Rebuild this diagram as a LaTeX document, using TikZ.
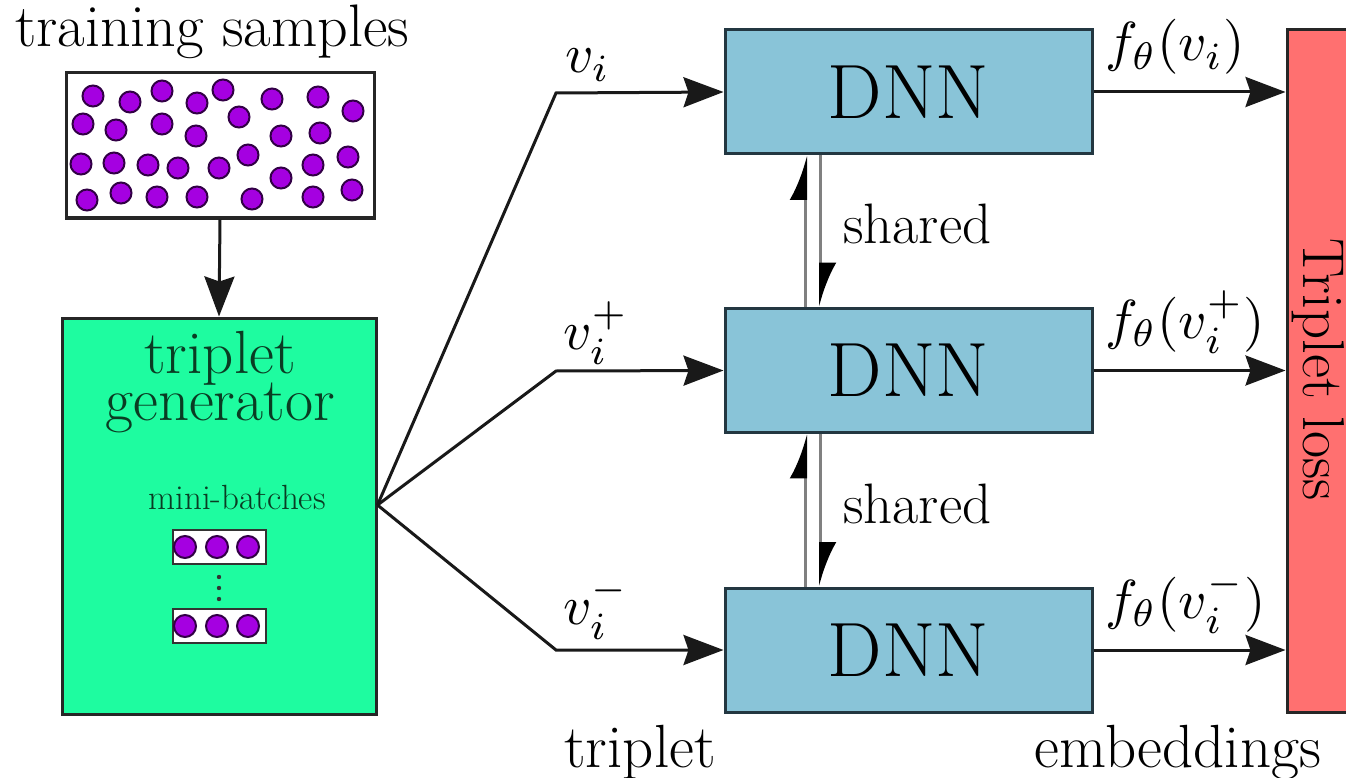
\documentclass[tikz,border=0pt]{standalone}
\usepackage{fontspec}
\usepackage{graphicx}
\usetikzlibrary{arrows.meta}
\definecolor{genfill}{RGB}{30,252,160}
\definecolor{gentext}{RGB}{10,60,35}
\definecolor{dnnfill}{RGB}{137,196,216}
\definecolor{dnnedge}{RGB}{35,55,65}
\definecolor{lossfill}{RGB}{255,112,112}
\definecolor{dotfill}{RGB}{165,0,225}
\definecolor{dotedge}{RGB}{50,0,70}
\definecolor{linecol}{RGB}{25,25,25}
\newcommand{\bigmath}[1]{\scalebox{5.5}{$#1$}}
\tikzset{
  big/.style={font=\fontsize{61}{66}\selectfont, inner sep=0pt},
  lbl/.style={inner sep=0pt, anchor=base west},
  dnnbox/.style={draw=dnnedge, line width=3pt, fill=dnnfill, minimum width=367pt,
    minimum height=124pt, inner sep=0pt, font=\fontsize{77}{80}\selectfont},
  arr/.style={draw=linecol, line width=3pt, line join=miter,
    -{Stealth[length=40pt,width=30pt,inset=5pt]}},
  sharedln/.style={draw=black!50, line width=3pt,
    -{Latex[left,length=39pt,width=32pt,color=black]}},
  dot/.style={fill=dotfill, draw=dotedge, line width=2pt},
  mbbox/.style={draw=black!80, line width=2pt, fill=white, minimum width=93pt,
    minimum height=34pt, inner sep=0pt},
}
\begin{document}
\begin{tikzpicture}[x=1pt,y=-1pt]
\useasboundingbox (0,0) rectangle (1346,778);
\clip (0,0) rectangle (1346,778);

% training samples
\node[big, anchor=base, font=\fontsize{60}{64}\selectfont] (ts) at (212,47) {training samples};
\node[draw=black!85, line width=3pt, fill=white, minimum width=308pt, minimum height=145pt, inner sep=0pt] (samples) at (220,145.5) {};
\foreach \p in {(93,96),(130,102),(162,91),(197,103),(223,90),(272,99),(318,97),(353,111),
  (83,124),(116,130),(162,124),(196,136),(239,117),(281,136),(320,133),
  (81,164),(114,163),(148,165),(178,168),(219,168),(248,155),(313,165),(348,157),(281,178),
  (87,200),(121,193),(157,197),(197,197),(252,199),(313,197),(352,190)}
  \filldraw[dot] \p circle (10.5);

% triplet generator
\node[draw=black!85, line width=3pt, fill=genfill, minimum width=314pt, minimum height=396pt, inner sep=0pt] (gen) at (219,516) {};
\node[big, anchor=base, text=gentext] (g1) at (220,373) {triplet};
\node[big, anchor=base, text=gentext] (g2) at (220,420) {generator};
\node[font=\fontsize{35}{40}\selectfont, inner sep=0pt, anchor=base, text=gentext] (mbt) at (237,509) {mini-batches};
\node[mbbox] (mb1) at (219,547) {};
\node[mbbox] (mb2) at (219,626) {};
\foreach \x in {185,217,248} {
  \filldraw[dot] (\x,547) circle (11);
  \filldraw[dot] (\x,626) circle (11);
}
\foreach \y in {577,588,599} \fill[black!80] (219,\y) circle (2.2);

\draw[arr] (samples.south) -- (gen.north);

% DNNs
\node[dnnbox] (d1) at (908.5,92) {DNN};
\node[dnnbox] (d2) at (908.5,370.5) {DNN};
\node[dnnbox] (d3) at (908.5,650) {DNN};

% loss
\node[draw=black!85, line width=3pt, fill=lossfill, minimum width=90pt, minimum height=682pt, inner sep=0pt] (loss) at (1332,371) {};
\node[big, rotate=-90, font=\fontsize{59}{64}\selectfont] (losst) at (1318,370) {Triplet loss};

% fan
\coordinate (fan) at ([yshift=11pt]gen.east);
\coordinate (k1) at (556,93);
\coordinate (k2) at (556,371);
\coordinate (k3) at (556,650);
\draw[arr] (fan) -- (k1) -- (d1.west);
\draw[arr] (fan) -- (k2) -- (d2.west);
\draw[arr] (fan) -- (k3) -- (d3.west);
\node[lbl] (v1) at (565,73) {\bigmath{v_i}};
\node[lbl] (v2) at (563,349) {\bigmath{v_i^+}};
\node[lbl] (v3) at (563,624) {\bigmath{v_i^-}};

% outputs
\draw[arr] (d1.east) -- (d1.east -| loss.west);
\draw[arr] (d2.east) -- (d2.east -| loss.west);
\draw[arr] (d3.east) -- (d3.east -| loss.west);
\node[lbl] (f1) at (1105,61) {\bigmath{f_\theta(v_i)}};
\node[lbl] (f2) at (1105,338) {\bigmath{f_\theta(v_i^+)}};
\node[lbl] (f3) at (1105,618) {\bigmath{f_\theta(v_i^-)}};

% shared
\draw[sharedln] ([xshift=82pt]d2.north west) -- ([xshift=82pt]d1.south west);
\draw[sharedln] ([xshift=97pt]d1.south west) -- ([xshift=97pt]d2.north west);
\draw[sharedln] ([xshift=82pt]d3.north west) -- ([xshift=82pt]d2.south west);
\draw[sharedln] ([xshift=97pt]d2.south west) -- ([xshift=97pt]d3.north west);
\node[big, anchor=base west, font=\fontsize{57}{60}\selectfont] (s1) at (843,243) {shared};
\node[big, anchor=base west, font=\fontsize{57}{60}\selectfont] (s2) at (843,523) {shared};

% bottom labels
\node[big, anchor=base] (tb) at (640,767) {triplet};
\node[big, anchor=base] (eb) at (1178,767) {embeddings};
\end{tikzpicture}
\end{document}
